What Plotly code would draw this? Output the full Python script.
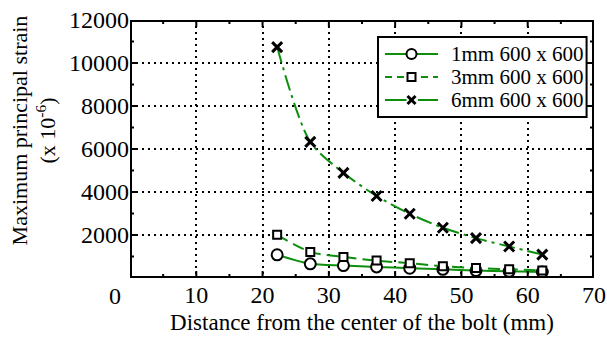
import plotly.graph_objects as go

# Distance from the bolt centre (mm) and strain readings (x 10^-6)
distance = [22.2, 27.2, 32.2, 37.2, 42.2, 47.2, 52.2, 57.2, 62.2]
strain_1mm = [1080, 660, 580, 515, 455, 405, 345, 310, 280]
strain_3mm = [2010, 1215, 980, 810, 685, 545, 465, 405, 345]
strain_6mm = [10740, 6330, 4890, 3815, 2990, 2335, 1855, 1465, 1090]

series_names = ["1mm 600 x 600", "3mm 600 x 600", "6mm 600 x 600"]

x_range = [0, 70]
y_range = [0, 12000]
x_ticks = [10, 20, 30, 40, 50, 60, 70]
x_minor = [5, 15, 25, 35, 45, 55, 65]
y_ticks = [2000, 4000, 6000, 8000, 10000, 12000]
y_minor = [1000, 3000, 5000, 7000, 9000, 11000]

GREEN = "#0c8f0c"
FONT = "Liberation Serif"
DASHES = ["solid", "12px,6px", "16px,5px,3px,5px"]

# plot-area size in pixels, used to turn tick lengths into axis units
PLOT_W, PLOT_H = 464, 258
dx = (x_range[1] - x_range[0]) / PLOT_W
dy = (y_range[1] - y_range[0]) / PLOT_H

fig = go.Figure()

for name, vals, dash, sym in zip(series_names, [strain_1mm, strain_3mm, strain_6mm],
                                 DASHES, ["circle", "square", "x-thin"]):
    if sym == "x-thin":
        marker = dict(symbol=sym, size=10, color="black", line=dict(color="black", width=3))
    elif sym == "circle":
        marker = dict(symbol=sym, size=11, color="white", line=dict(color="black", width=2))
    else:
        marker = dict(symbol=sym, size=8, color="white", line=dict(color="black", width=2))
    fig.add_trace(go.Scatter(
        x=distance, y=vals, name=name, mode="lines+markers", showlegend=False,
        line=dict(color=GREEN, width=2, dash=dash, shape="spline", smoothing=0.8),
        marker=marker,
    ))

# Inward tick marks on all four sides, as one segmented line
tx, ty = [], []
x0, x1 = x_range
y0, y1 = y_range
for v, ln in [(v, 7) for v in x_ticks if v < x1] + [(v, 4) for v in x_minor]:
    tx += [v, v, None, v, v, None]
    ty += [y0, y0 + ln * dy, None, y1, y1 - ln * dy, None]
for v, ln in [(v, 7) for v in y_ticks if v < y1] + [(v, 4) for v in y_minor]:
    tx += [x0, x0 + ln * dx, None, x1, x1 - ln * dx, None]
    ty += [v, v, None, v, v, None]
fig.add_trace(go.Scatter(x=tx, y=ty, mode="lines", showlegend=False, hoverinfo="skip",
                         line=dict(color="black", width=2)))

# Plot frame (half of the stroke falls inside the plotting area)
fig.add_trace(go.Scatter(x=[x0, x1, x1, x0, x0], y=[y0, y0, y1, y1, y0], mode="lines",
                         showlegend=False, hoverinfo="skip",
                         line=dict(color="black", width=4)))

axis_common = dict(
    showline=False, ticks="",
    showgrid=True, gridcolor="#000000", gridwidth=2,
    griddash="2px,4px", zeroline=False, automargin=False,
    tickfont=dict(family=FONT, size=24, color="black"),
)
fig.update_xaxes(
    range=x_range, tickvals=x_ticks, tickformat="d",
    title=dict(text="Distance from the center of the bolt (mm)",
               font=dict(family=FONT, size=23, color="black"), standoff=6),
    **axis_common,
)
fig.update_yaxes(range=y_range, tickvals=y_ticks, tickformat="d", **axis_common)

# Legend box with line samples and marker glyphs
shapes = [dict(type="rect", xref="paper", yref="paper", x0=0.5345, x1=0.984,
               y0=0.624, y1=0.934, fillcolor="white",
               line=dict(color="black", width=2), layer="above")]
rows = [0.8682, 0.7791, 0.6899]
mx = 0.6067
for row, dash in zip(rows, ["solid", "7px,5px", "22px,4px,3px,4px"]):
    shapes.append(dict(type="line", xref="paper", yref="paper", x0=0.5496, x1=0.6638,
                       y0=row, y1=row, line=dict(color=GREEN, width=2, dash=dash),
                       layer="above"))
px = dict(xref="paper", yref="paper", xsizemode="pixel", ysizemode="pixel",
          xanchor=mx, layer="above")
shapes.append(dict(px, type="circle", yanchor=rows[0], x0=-5, x1=5, y0=-5, y1=5,
                   fillcolor="white", line=dict(color="black", width=2)))
shapes.append(dict(px, type="rect", yanchor=rows[1], x0=-4, x1=4, y0=-4, y1=4,
                   fillcolor="white", line=dict(color="black", width=2)))
shapes.append(dict(px, type="rect", yanchor=rows[2], x0=-5, x1=5, y0=-2, y1=2,
                   fillcolor="white", line=dict(color="white", width=0)))
shapes.append(dict(px, type="line", yanchor=rows[2], x0=-4, x1=4, y0=-4, y1=4,
                   line=dict(color="black", width=3)))
shapes.append(dict(px, type="line", yanchor=rows[2], x0=-4, x1=4, y0=4, y1=-4,
                   line=dict(color="black", width=3)))

annotations = [
    dict(x=0.6875, y=row, xref="paper", yref="paper", text=name, showarrow=False,
         xanchor="left", yanchor="middle", font=dict(family=FONT, size=21, color="black"))
    for row, name in zip(rows, series_names)
]
# Zero label at the shared origin
annotations.append(dict(x=0, y=0, xref="x", yref="y", text="0", showarrow=False,
                        xanchor="right", yanchor="middle", xshift=-7, yshift=-18,
                        font=dict(family=FONT, size=24, color="black")))
# Vertical axis title, two lines
annotations.append(dict(x=-0.208, y=0.574, xref="paper", yref="paper",
                        text="Maximum principal strain<br>(x 10<sup>-6</sup>)",
                        showarrow=False, textangle=-90, xanchor="center", yanchor="middle",
                        font=dict(family=FONT, size=22, color="black")))

fig.update_layout(
    width=607, height=342,
    margin=dict(l=130, r=13, t=20, b=64),
    paper_bgcolor="white", plot_bgcolor="white",
    showlegend=False, shapes=shapes, annotations=annotations,
)

fig.write_html("out.html")
